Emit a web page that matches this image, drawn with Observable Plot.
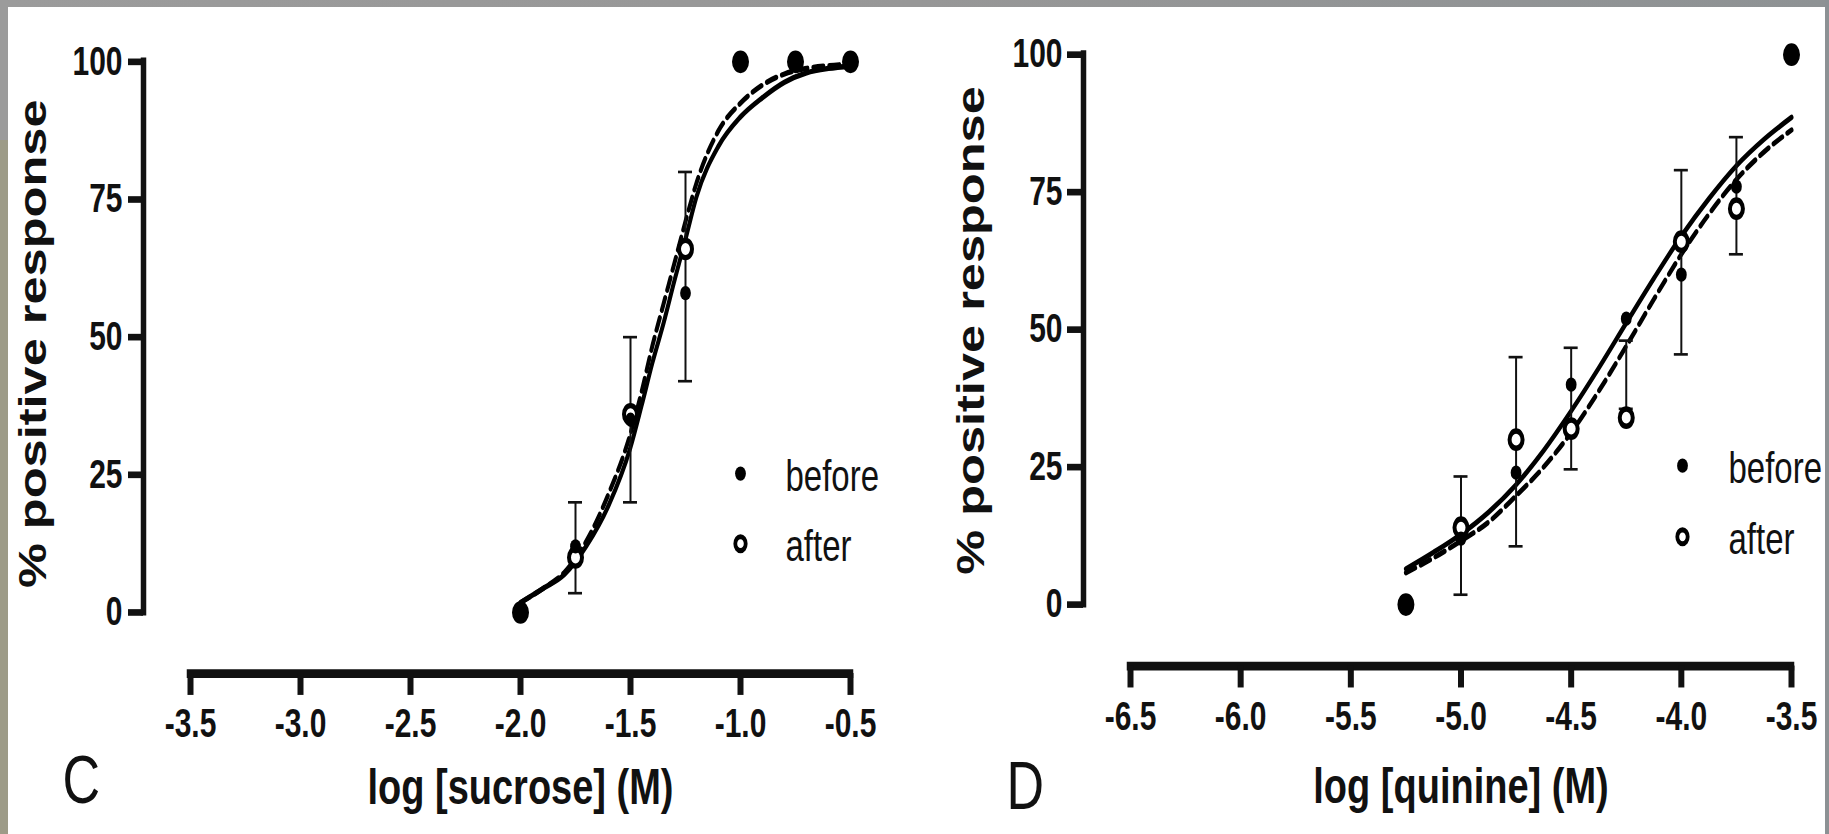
<!DOCTYPE html>
<html>
<head>
<meta charset="utf-8">
<script src="https://cdn.jsdelivr.net/npm/d3@7"></script>
<script src="https://cdn.jsdelivr.net/npm/@observablehq/plot@0.6"></script>
<style>
html, body { margin: 0; padding: 0; background: #fff; }
#page { position: relative; width: 1829px; height: 834px; overflow: hidden; background: #fff; }
.strip { position: absolute; z-index: 2; }
.panel { position: absolute; top: 0; transform: scaleY(1.33); transform-origin: 0 0; }
svg text { font-family: "Liberation Sans", Arial, sans-serif; }
</style>
</head>
<body>
<div id="page">
  <div class="strip" style="left:0;top:0;width:1829px;height:7px;background:linear-gradient(90deg,#9b9b9b,#979797 50%,#8e9294)"></div>
  <div class="strip" style="left:0;top:0;width:8px;height:834px;background:linear-gradient(180deg,#9b9b9b 0,#9b9b9b 140px,#9d9b88 140px,#9d9b88 100%)"></div>
  <div class="strip" style="left:1825px;top:0;width:4px;height:834px;background:#8c9194"></div>
  <div id="left" class="panel" style="left:0"></div>
  <div id="right" class="panel" style="left:915px"></div>
</div>
<script>
// ---------- shared ----------
const yTicks = [0, 25, 50, 75, 100];
const yTickLabels = ["0", "25", "50", "75", "100"];
const seriesNames = ["before", "after"];

// ---------- Panel C : sucrose ----------
const sucroseX = [-2.0, -1.75, -1.5, -1.25, -1.0, -0.75, -0.5];
const sucroseBefore = [0, 12, 35, 58, 100, 100, 100];
const sucroseAfter = [0, 10, 36, 66, 100, 100, 100];
const sucroseErrX = [-1.75, -1.5, -1.25];
const sucroseErrLo = [3.5, 20, 42];
const sucroseErrHi = [20, 50, 80];
const sucroseFitX = [-2.0, -1.9, -1.8, -1.7, -1.6, -1.5, -1.45, -1.4, -1.35, -1.3, -1.25, -1.2, -1.1, -1.0, -0.9, -0.8, -0.7, -0.6, -0.5];
const sucroseFitBefore = [1.8, 4.3, 6.9, 12.1, 19.4, 30, 37.5, 45.4, 52.5, 60.3, 67.8, 75.5, 84.7, 90, 93.5, 96.3, 98, 98.8, 99.2];
const sucroseFitAfter = [1.8, 4.3, 7.3, 13, 21.5, 32.5, 40, 48.5, 56, 63.5, 71, 78, 87.5, 92.5, 95.8, 97.8, 98.8, 99.3, 99.6];
const sucroseTicks = [-3.5, -3.0, -2.5, -2.0, -1.5, -1.0, -0.5];
const sucroseTickLabels = ["-3.5", "-3.0", "-2.5", "-2.0", "-1.5", "-1.0", "-0.5"];

// ---------- Panel D : quinine ----------
const quinineX = [-5.25, -5.0, -4.75, -4.5, -4.25, -4.0, -3.75, -3.5];
const quinineBefore = [0, 12, 24, 40, 52, 60, 76, 100];
const quinineAfter = [0, 14, 30, 32, 34, 66, 72, 100];
const quinineErrX = [-5.0, -4.75, -4.5, -4.25, -4.0, -3.75];
const quinineErrLo = [1.8, 10.6, 24.6, 35.6, 45.5, 63.7];
const quinineErrHi = [23.3, 45, 46.7, 48, 79, 85];
const quinineFitX = [-5.25, -5.125, -5.0, -4.875, -4.75, -4.625, -4.5, -4.375, -4.25, -4.125, -4.0, -3.875, -3.75, -3.625, -3.5];
const quinineFitBefore = [6.5, 9.5, 12.8, 16.8, 21.8, 28, 35.2, 43, 51.2, 59.3, 67, 73.8, 79.8, 84.6, 88.6];
const quinineFitAfter = [5.8, 8.5, 11.6, 15, 19.8, 25, 31.3, 38.8, 47, 55.5, 63.7, 71, 77.3, 82.3, 86.3];
const quinineTicks = [-6.5, -6.0, -5.5, -5.0, -4.5, -4.0, -3.5];
const quinineTickLabels = ["-6.5", "-6.0", "-5.5", "-5.0", "-4.5", "-4.0", "-3.5"];

const H = 627; // svg height before the vertical stretch of the panel
const FONT = "'Liberation Sans', Arial, Helvetica, sans-serif";

const pts = (xs, ys) => xs.map((x, i) => ({x, y: ys[i]}));
const errs = (xs, lo, hi) => xs.map((x, i) => ({x, lo: lo[i], hi: hi[i]}));

function panel(c) {
  const xDom = [c.ticks[0], c.ticks[c.ticks.length - 1]];
  const e = errs(c.errX, c.errLo, c.errHi);
  return Plot.plot({
    width: c.width,
    height: H,
    marginLeft: c.ml, marginRight: c.mr, marginTop: c.mt, marginBottom: c.mb,
    x: {domain: xDom, insetLeft: c.insetL},
    y: {domain: [yTicks[0], yTicks[yTicks.length - 1]], insetBottom: c.insetB},
    style: {background: "transparent", overflow: "visible", fontFamily: FONT, color: "#111", maxWidth: "none"},
    marks: [
      // axis lines (offset GraphPad style)
      Plot.ruleX([xDom[0]], {y1: yTicks[0], y2: yTicks[yTicks.length - 1], dx: -c.insetL, strokeWidth: 5.5, strokeLinecap: "square"}),
      Plot.ruleY([yTicks[0]], {x1: xDom[0], x2: xDom[1], dy: c.insetB, strokeWidth: 6.5, strokeLinecap: "square"}),
      Plot.axisY({ticks: yTicks, tickFormat: d => yTickLabels[yTicks.indexOf(d)], tickSize: c.yTickSize, tickPadding: c.yTickPad,
        strokeWidth: 5, fontSize: 30, fontWeight: "bold", label: null}),
      Plot.axisX({ticks: c.ticks, tickFormat: d => c.tickLabels[c.ticks.indexOf(d)], tickSize: 16.5, tickPadding: 10,
        strokeWidth: 6, fontSize: 30, fontWeight: "bold", label: null}),
      // titles
      Plot.text([c.title], {frameAnchor: "bottom", dx: c.insetL / 2, dy: c.titleDy, textAnchor: "middle", lineAnchor: "bottom",
        fontSize: 38, fontWeight: "bold"}),
      Plot.text(["% positive response"], {frameAnchor: "left", rotate: -90, dx: c.ylabDx, dy: c.ylabDy, textAnchor: "middle",
        lineAnchor: "bottom", fontSize: 38, fontWeight: "bold"}),
      Plot.text([c.letter], {frameAnchor: "bottom-left", dx: c.letterDx, dy: c.letterDy, textAnchor: "start", lineAnchor: "bottom",
        fontSize: 52}),
      // fitted curves
      Plot.line(pts(c.fitX, c.fitBefore), {x: "x", y: "y", curve: "monotone-x", stroke: "#000", strokeWidth: 4}),
      Plot.line(pts(c.fitX, c.fitAfter), {x: "x", y: "y", curve: "monotone-x", stroke: "#000", strokeWidth: 4, strokeDasharray: "10,6"}),
      // error bars
      Plot.ruleX(e, {x: "x", y1: "lo", y2: "hi", stroke: "#111", strokeWidth: 2}),
      Plot.ruleY(e, {y: "lo", x1: "x", x2: "x", insetLeft: -7, insetRight: -7, stroke: "#111", strokeWidth: 2}),
      Plot.ruleY(e, {y: "hi", x1: "x", x2: "x", insetLeft: -7, insetRight: -7, stroke: "#111", strokeWidth: 2}),
      // points
      Plot.dot(pts(c.x, c.after), {x: "x", y: "y", r: 6.5, stroke: "#000", strokeWidth: 4, fill: "white"}),
      Plot.dot(pts(c.x, c.before), {x: "x", y: "y", r: 5.4, fill: "#000"}),
      // legend
      Plot.dot([seriesNames[0]], {frameAnchor: "top-left", dx: c.legDx, dy: c.legDy[0], r: 5.4, fill: "#000"}),
      Plot.dot([seriesNames[1]], {frameAnchor: "top-left", dx: c.legDx, dy: c.legDy[1], r: 5.2, stroke: "#000", strokeWidth: 3.8, fill: "white"}),
      Plot.text([seriesNames[0]], {frameAnchor: "top-left", dx: c.legTextDx, dy: c.legTextDy[0], textAnchor: "start", lineAnchor: "bottom", fontSize: 33}),
      Plot.text([seriesNames[1]], {frameAnchor: "top-left", dx: c.legTextDx, dy: c.legTextDy[1], textAnchor: "start", lineAnchor: "bottom", fontSize: 33})
    ]
  });
}

document.getElementById("left").appendChild(panel({
  width: 915, ml: 143, mr: 65, mt: 46, mb: 121, insetL: 47, insetB: 46,
  yTickSize: 15, yTickPad: 6,
  ticks: sucroseTicks, tickLabels: sucroseTickLabels,
  x: sucroseX, before: sucroseBefore, after: sucroseAfter,
  errX: sucroseErrX, errLo: sucroseErrLo, errHi: sucroseErrHi,
  fitX: sucroseFitX, fitBefore: sucroseFitBefore, fitAfter: sucroseFitAfter,
  title: "log [sucrose] (M)", titleDy: 98,
  ylabDx: -98, ylabDy: -18,
  letter: "C", letterDx: -81, letterDy: 97,
  legDx: 597, legDy: [309.6, 362.3], legTextDx: 642, legTextDy: [322.4, 375]
}));

document.getElementById("right").appendChild(panel({
  width: 914, ml: 168, mr: 38, mt: 40.6, mb: 126.6, insetL: 47, insetB: 46.3,
  yTickSize: 16, yTickPad: 5,
  ticks: quinineTicks, tickLabels: quinineTickLabels,
  x: quinineX, before: quinineBefore, after: quinineAfter,
  errX: quinineErrX, errLo: quinineErrLo, errHi: quinineErrHi,
  fitX: quinineFitX, fitBefore: quinineFitBefore, fitAfter: quinineFitAfter,
  title: "log [quinine] (M)", titleDy: 103,
  ylabDx: -99.5, ylabDy: -22.5,
  letter: "D", letterDx: -77, letterDy: 107,
  legDx: 599, legDy: [309, 362.5], legTextDx: 645, legTextDy: [322, 375.4]
}));
</script>
</body>
</html>
